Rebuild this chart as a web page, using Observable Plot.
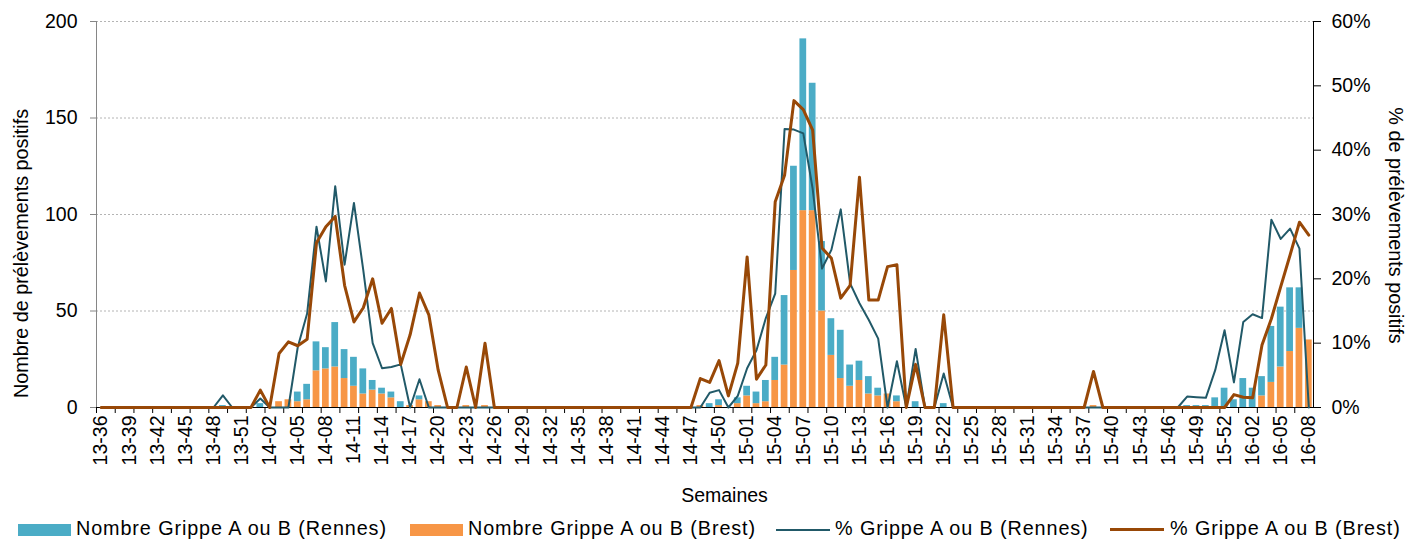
<!DOCTYPE html>
<html><head><meta charset="utf-8">
<script src="https://cdn.jsdelivr.net/npm/d3@7"></script>
<script src="https://cdn.jsdelivr.net/npm/@observablehq/plot@0.6"></script>
<style>
body{margin:0;background:#fff;font-family:Arial,"Liberation Sans",sans-serif;}
#chart{position:relative;width:1407px;height:540px;overflow:hidden;}
#legend{position:relative;width:1407px;height:30px;}
.sw{position:absolute;}
.lab{position:absolute;font-size:19.8px;letter-spacing:0.9px;white-space:nowrap;color:#000;line-height:1;}
</style></head><body><div id="chart"></div>
<script>
// Weeks (categories)
const weeks = [
 "13-36","13-37","13-38","13-39","13-40","13-41","13-42","13-43","13-44","13-45","13-46","13-47","13-48","13-49","13-50","13-51","13-52",
 "14-01","14-02","14-03","14-04","14-05","14-06","14-07","14-08","14-09","14-10","14-11","14-12","14-13","14-14","14-15","14-16","14-17","14-18","14-19","14-20","14-21","14-22","14-23","14-24","14-25","14-26","14-27","14-28","14-29","14-30","14-31","14-32","14-33","14-34","14-35","14-36","14-37","14-38","14-39","14-40","14-41","14-42","14-43","14-44","14-45","14-46","14-47","14-48","14-49","14-50","14-51","14-52",
 "15-01","15-02","15-03","15-04","15-05","15-06","15-07","15-08","15-09","15-10","15-11","15-12","15-13","15-14","15-15","15-16","15-17","15-18","15-19","15-20","15-21","15-22","15-23","15-24","15-25","15-26","15-27","15-28","15-29","15-30","15-31","15-32","15-33","15-34","15-35","15-36","15-37","15-38","15-39","15-40","15-41","15-42","15-43","15-44","15-45","15-46","15-47","15-48","15-49","15-50","15-51","15-52","15-53",
 "16-01","16-02","16-03","16-04","16-05","16-06","16-07","16-08"
];
// Nombre Grippe A ou B (Rennes)
const rennes = [
 0,0,0,0,0,0,0,0,0,0,0,0,0,1,0,0,0,
 2,0,0,0,5,8,15,11,23,15, 15,13,5,3,3,3,0,2,0,0, 0,0,0,0,0,0,0,0,0,0, 0,0,0,0,0,0,0,0,0,0, 0,0,0,0,0,0,0,0,2,3, 0,3,
 5,6,11,12,36,54,89,66,36,19, 25,11,10,9,4,0,3,0,3,0, 0,2,0,0,0,0,0,0,0,0, 0,0,0,0,0,0,0,0,0,0, 0,0,0,0,0,0,0,1,1,1, 5,10,4,
 15,10,10,29,31,33,21,0
];
// Nombre Grippe A ou B (Brest)
const brest = [
 0,0,0,0,0,0,0,0,0,0,0,0,0,0,0,0,0,
 0,0,3,4,3,4,19,20,21,15, 11,7,9,7,5,0,1,4,3,1, 0,0,1,0,1,0,0,0,0,0, 0,0,0,0,0,0,0,0,0,0, 0,0,0,0,0,0,0,1,0,1, 0,2,
 6,2,3,14,22,71,102,102,50,27, 15,11,14,7,6,7,3,0,0,0, 0,0,0,0,0,0,0,0,0,0, 0,0,0,0,0,0,0,1,0,0, 0,0,0,0,0,0,0,0,0,0, 0,0,0,
 0,0,6,13,21,29,41,35
];
// % Grippe A ou B (Rennes)
const pctRennes = [
 0,0,0,0,0,0,0,0,0,0,0,0,0,1.9,0,0,0,
 1.4,0,0,0,9.4,14.6,28.1,19.6,34.4,22.2, 31.8,21.3,10.0,6.1,6.3,6.7,0,4.4,0,0, 0,0,0,0,0,0,0,0,0,0, 0,0,0,0,0,0,0,0,0,0, 0,0,0,0,0,0,0,0,2.3,2.7, 0,1.8,
 6.1,8.9,13.9,17.7,43.3,43.2,42.6,34.0,21.6,24.5, 30.8,19.3,16.2,13.6,10.7,0,7.2,0,9.1,0, 0,5.3,0,0,0,0,0,0,0,0, 0,0,0,0,0,0,0,0,0,0, 0,0,0,0,0,0,0,1.7,1.6,1.5, 5.8,12.0,3.9,
 13.3,14.5,13.9,29.2,26.2,27.8,24.7,0
];
// % Grippe A ou B (Brest)
const pctBrest = [
 0,0,0,0,0,0,0,0,0,0,0,0,0,0,0,0,0,
 2.7,0,8.4,10.2,9.6,10.6,25.6,28.1,29.7,19.0, 13.3,15.5,20.0,13.1,15.4,6.7,11.3,17.8,14.4,5.8, 0,0,6.3,0,10.0,0,0,0,0,0, 0,0,0,0,0,0,0,0,0,0, 0,0,0,0,0,0,0,4.5,3.9,7.3, 1.8,6.9,
 23.4,4.4,6.6,32.0,36.1,47.7,46.3,43.1,24.8,23.2, 17.0,19.0,35.8,16.7,16.7,21.9,22.2,0,6.7,0, 0,14.4,0,0,0,0,0,0,0,0, 0,0,0,0,0,0,0,5.6,0,0, 0,0,0,0,0,0,0,0,0,0, 0,0,2.0,
 1.6,1.5,9.7,13.8,18.8,23.7,28.8,26.8
];
const countTicks = [0, 50, 100, 150, 200];
const pctTicks = [0, 10, 20, 30, 40, 50, 60];
const labelWeeks = weeks.filter((_, i) => i % 3 === 0);
const minorWeeks = weeks.filter((_, i) => i % 2 === 0);
const seriesNames = ["Nombre Grippe A ou B (Rennes)", "Nombre Grippe A ou B (Brest)", "% Grippe A ou B (Rennes)", "% Grippe A ou B (Brest)"];
const colors = {rennesBar: "#4BACC6", brestBar: "#F79646", rennesLine: "#215968", brestLine: "#984807"};

const W = 1407, H = 510, mL = 96, mR = 94, mT = 21, mB = 103;
const step = (W - mL - mR) / weeks.length;
const k = countTicks[countTicks.length - 1] / pctTicks[pctTicks.length - 1];
const rows = weeks.map((w, i) => ({week: w, rennes: rennes[i], brest: brest[i], pr: pctRennes[i], pb: pctBrest[i]}));
const font = "Arial, 'Liberation Sans', sans-serif";

const plot = Plot.plot({
  width: W, height: H,
  marginLeft: mL, marginRight: mR, marginTop: mT, marginBottom: mB,
  style: {fontFamily: font, fontSize: "19.5px", color: "#000", background: "#fff", overflow: "visible"},
  x: {type: "band", domain: weeks, paddingInner: 0.28, paddingOuter: 0.14, axis: null},
  y: {domain: [0, 200], axis: null},
  marks: [
    Plot.gridY(countTicks.slice(1), {stroke: "#b4b4b4", strokeOpacity: 1, strokeDasharray: "2,2"}),
    Plot.barY(rows, {x: "week", y1: 0, y2: "brest", fill: colors.brestBar}),
    Plot.barY(rows, {x: "week", y1: "brest", y2: d => d.brest + d.rennes, fill: colors.rennesBar}),
    Plot.ruleY([0], {stroke: "#000"}),
    Plot.frame({anchor: "left", stroke: "#868686"}),
    Plot.frame({anchor: "right", stroke: "#000"}),
    Plot.axisY({anchor: "left", ticks: countTicks, tickSize: 6, tickPadding: 13, stroke: "#868686", label: null}),
    Plot.axisY({anchor: "right", ticks: pctTicks.map(p => p * k), tickFormat: d => Math.round(d / k) + "%", tickSize: 7, tickPadding: 11, label: null}),
    Plot.axisX({anchor: "bottom", ticks: minorWeeks, tickSize: 6, tickFormat: () => "", dx: -step / 2, label: null}),
    Plot.axisX({anchor: "bottom", ticks: labelWeeks, tickSize: 0, tickPadding: 8, tickRotate: -90, label: null}),
    Plot.line(rows, {x: "week", y: d => d.pr * k, stroke: colors.rennesLine, strokeWidth: 2}),
    Plot.line(rows, {x: "week", y: d => d.pb * k, stroke: colors.brestLine, strokeWidth: 3}),
    Plot.text(["Nombre de prélèvements positifs"], {text: d => d, frameAnchor: "left", rotate: -90, textAnchor: "middle", lineAnchor: "middle", dx: -74.5, dy: 39, fontSize: 19.8}),
    Plot.text(["% de prélèvements positifs"], {text: d => d, frameAnchor: "right", rotate: 90, textAnchor: "middle", lineAnchor: "middle", dx: 82, dy: 11, fontSize: 19.8}),
    Plot.text(["Semaines"], {text: d => d, frameAnchor: "bottom", textAnchor: "middle", lineAnchor: "middle", dx: 19.5, dy: 88, fontSize: 19.5})
  ]
});
const chart = document.getElementById("chart");
chart.appendChild(plot);

// Legend
const legend = document.createElement("div");
legend.id = "legend";
const items = [
  {label: seriesNames[0], type: "rect", color: colors.rennesBar, sx: 18, tx: 76},
  {label: seriesNames[1], type: "rect", color: colors.brestBar, sx: 410, tx: 468},
  {label: seriesNames[2], type: "line", color: colors.rennesLine, sx: 776, tx: 835, w: 2},
  {label: seriesNames[3], type: "line", color: colors.brestLine, sx: 1110, tx: 1170, w: 3}
];
for (const it of items) {
  const sw = document.createElement("div");
  sw.className = "sw";
  sw.style.left = it.sx + "px";
  sw.style.background = it.color;
  if (it.type === "rect") {
    sw.style.top = "13.5px"; sw.style.width = "53px"; sw.style.height = "12.3px";
  } else {
    sw.style.top = (19.5 - it.w / 2) + "px"; sw.style.width = "54px"; sw.style.height = it.w + "px";
  }
  legend.appendChild(sw);
  const lab = document.createElement("div");
  lab.className = "lab";
  lab.style.left = it.tx + "px";
  lab.style.top = "9px";
  lab.textContent = it.label;
  legend.appendChild(lab);
}
chart.appendChild(legend);
</script></body></html>
